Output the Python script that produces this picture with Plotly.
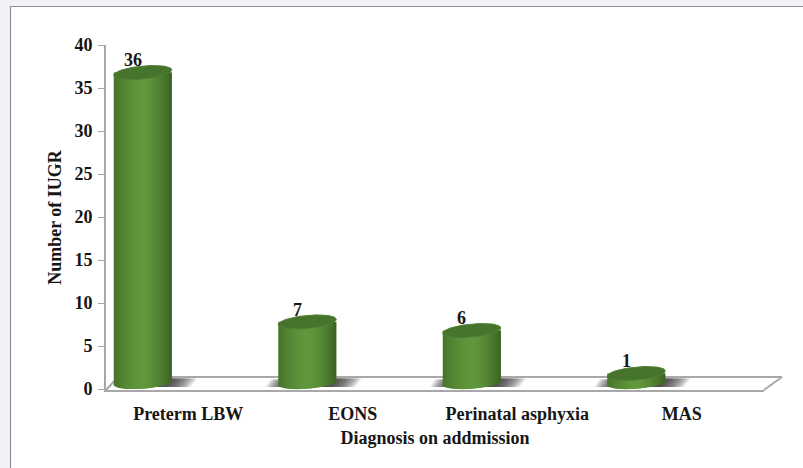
import numpy as np
import plotly.graph_objects as go

# Data
categories = ["Preterm LBW", "EONS", "Perinatal asphyxia", "MAS"]
values = [36, 7, 6, 1]
y_ticks = [0, 5, 10, 15, 20, 25, 30, 35, 40]
x_title = "Diagnosis on addmission"
y_title = "Number of IUGR"

# Canvas / plot geometry (pixels)
W, H = 803, 468
L, R, T, B = 106, 764, 45, 390
X_RANGE = [-0.5, 3.5]
Y_RANGE = [-0.116, 40]
PX_X = (R - L) / (X_RANGE[1] - X_RANGE[0])
PX_Y = (B - T) / (Y_RANGE[1] - Y_RANGE[0])

# Cylinder styling
BAR_SHIFT = -45.5 / PX_X     # bars sit left of their category label (3D depth)
N_STRIPS = 29
STRIP_PX = 2
HALF_W = N_STRIPS * STRIP_PX / 2 / PX_X
ELL_B = 6.5 / PX_Y
ELL_C = 2.6 / PX_Y
LIFT = 0.8
EDGE_L, MID, EDGE_R = (70, 116, 42), (97, 151, 60), (58, 98, 34)
TOP_COLOR = "#47742d"
FONT = "Liberation Serif"
TXT = "#161616"


def px(x):
    return (x - L) / (R - L)


def py(y):
    return (B - y) / (B - T)


def strip_color(u):
    a, b = (EDGE_L, MID) if u < 0 else (EDGE_R, MID)
    s = 1 - abs(u) ** 1.6
    return "rgb(%d,%d,%d)" % tuple(round(a[i] + (b[i] - a[i]) * s) for i in range(3))


fig = go.Figure()
idx = list(range(len(categories)))
strip_w = 2 * HALF_W / N_STRIPS

# Strips are painted left to right; each one overlaps the next so no seam shows
for k in range(N_STRIPS):
    u = -1 + (k + 0.5) * 2 / N_STRIPS
    base = LIFT - ELL_B * np.sqrt(max(1 - u * u, 0)) + ELL_C * u
    fig.add_trace(go.Bar(
        x=idx,
        y=[v + LIFT - base for v in values],
        base=[base] * len(values),
        width=strip_w * (2 if k < N_STRIPS - 1 else 1),
        offset=BAR_SHIFT - HALF_W + k * strip_w,
        marker=dict(color=strip_color(u), line=dict(width=0)),
        showlegend=False,
        hoverinfo="skip",
    ))

# Top ellipse of each cylinder
t = np.linspace(0, 2 * np.pi, 73)
for i, v in zip(idx, values):
    fig.add_trace(go.Scatter(
        x=i + BAR_SHIFT + HALF_W * np.cos(t),
        y=v + LIFT + ELL_B * np.sin(t) + ELL_C * np.cos(t),
        mode="lines",
        fill="toself",
        fillcolor=TOP_COLOR,
        line=dict(color="#4f7f32", width=1),
        showlegend=False,
        hoverinfo="skip",
    ))

shapes = []
# Background panel
shapes.append(dict(type="rect", xref="paper", yref="paper", layer="below",
                   x0=px(10.5), x1=px(W + 10), y0=py(6.5), y1=py(H + 10),
                   fillcolor="white", line=dict(color="#8f8f8f", width=1.2)))
# Floor
floor_line = dict(color="#a8a8a8", width=2)
shapes.append(dict(type="line", xref="paper", yref="paper", layer="below",
                   x0=px(106), y0=py(390), x1=px(118), y1=py(377), line=floor_line))
shapes.append(dict(type="line", xref="paper", yref="paper", layer="below",
                   x0=px(118), y0=py(377), x1=px(782), y1=py(377), line=floor_line))
shapes.append(dict(type="line", xref="paper", yref="paper", layer="below",
                   x0=px(782), y0=py(377), x1=px(764), y1=py(390), line=floor_line))

# Soft shadows on the floor either side of each cylinder (layers accumulate to a fade)
N_SHADOW = 14
for i in idx:
    cx = L + PX_X * (i + 0.5) + BAR_SHIFT * PX_X
    for s in range(N_SHADOW):
        xr = cx + 24 + s * 1.8
        shapes.append(dict(type="path", xref="paper", yref="paper", layer="below",
                           path="M %f %f L %f %f L %f %f L %f %f Z" % (
                               px(cx), py(387), px(xr), py(387),
                               px(xr + 7), py(378.5), px(cx), py(378.5)),
                           fillcolor="rgba(45,45,45,0.11)",
                           line=dict(width=0)))
        if i > 0:
            xl = cx - 29 - s * 1.0
            shapes.append(dict(type="path", xref="paper", yref="paper", layer="below",
                               path="M %f %f L %f %f L %f %f L %f %f Z" % (
                                   px(cx), py(387), px(xl), py(387),
                                   px(xl + 5), py(379.5), px(cx), py(379.5)),
                               fillcolor="rgba(45,45,45,0.07)",
                               line=dict(width=0)))

annotations = [
    dict(x=i, y=v, xref="x", yref="y", text=str(v), showarrow=False,
         xshift=BAR_SHIFT * PX_X - 10, yshift=19,
         font=dict(family=FONT, size=18, color=TXT, weight=700))
    for i, v in zip(idx, values)
]

fig.update_layout(
    width=W, height=H,
    margin=dict(l=L, r=W - R, t=T, b=H - B, pad=0),
    paper_bgcolor="#f0f2f5",
    plot_bgcolor="rgba(0,0,0,0)",
    barmode="overlay",
    showlegend=False,
    shapes=shapes,
    annotations=annotations,
    xaxis=dict(
        range=X_RANGE, tickmode="array", tickvals=idx, ticktext=categories,
        showgrid=False, zeroline=False, showline=True, linecolor="#a8a8a8", linewidth=2,
        ticks="", ticklabelstandoff=6,
        tickfont=dict(family=FONT, size=18, color=TXT, weight=700),
        title=dict(text=x_title, standoff=9,
                   font=dict(family=FONT, size=18, color=TXT, weight=700)),
    ),
    yaxis=dict(
        range=Y_RANGE, tickmode="array", tickvals=y_ticks,
        showgrid=False, zeroline=False, showline=True, linecolor="#a8a8a8", linewidth=2,
        ticks="outside", ticklen=6, tickcolor="#a8a8a8", tickwidth=1,
        ticklabelstandoff=2,
        tickfont=dict(family=FONT, size=18, color=TXT, weight=700),
        title=dict(text=y_title, standoff=8,
                   font=dict(family=FONT, size=18, color=TXT, weight=700)),
    ),
)

fig.write_html("out.html", config={"displayModeBar": False},
               post_script="document.body.style.margin='0';")
